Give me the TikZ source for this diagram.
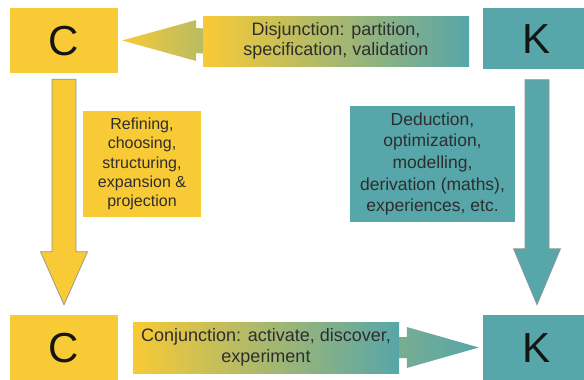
\documentclass[tikz,border=0pt]{standalone}
\usepackage{fontspec}
\setmainfont{Liberation Sans}
\usepackage{tikz}
\usetikzlibrary{calc}
\definecolor{cyel}{HTML}{F8CA35}
\definecolor{kteal}{HTML}{57A6A9}
\definecolor{ink}{HTML}{151515}
\definecolor{txt}{HTML}{2E2E2E}

\begin{document}
\begin{tikzpicture}[x=1pt,y=-1pt]
\tikzstyle{letter}=[rectangle,inner sep=0pt,minimum width=108pt,minimum height=65pt,text=ink,text height=30pt,text depth=0pt,font=\fontsize{42}{42}\selectfont]
\tikzstyle{cbox}=[letter,fill=cyel]
\tikzstyle{kbox}=[letter,fill=kteal]
\tikzstyle{note}=[rectangle,inner sep=0pt,align=center,text=txt,font=\fontsize{18}{20.5}\selectfont]
\tikzstyle{mixed}=[note,left color=cyel,right color=kteal,minimum width=266pt]
\tikzstyle{varrow}=[draw=gray!85,line width=0.7pt]
\useasboundingbox (0,0) rectangle (584,380);
\clip (0,0) rectangle (584,380);
\node[cbox] (C_0) at (64,40.5) {C};
\node[kbox,minimum height=61pt] (K_0) at (537,38) {K};
\node[cbox] (C_1) at (64,347.5) {C};
\node[kbox] (K_1) at (537,347.5) {K};
\node[mixed,minimum height=50pt] (disj) at (336,41) {Disjunction: partition,\\specification, validation};
\node[mixed,minimum height=51pt] (conj) at (266,347.5) {Conjunction: activate, discover,\\experiment};
\node[note,fill=cyel,minimum width=118pt,minimum height=106pt,font=\fontsize{16}{19.3}\selectfont] (refine) at (142,164) {Refining,\\choosing,\\structuring,\\expansion \&\\projection};
\node[note,fill=kteal,minimum width=165pt,minimum height=116pt,font=\fontsize{17.5}{21.7}\selectfont] (deduce) at (432.5,164) {Deduction,\\optimization,\\modelling,\\derivation (maths),\\experiences, etc.};
\coordinate (a) at ($(C_0.south)+(0,6)$);
\coordinate (b) at ($(C_1.north)+(0,-10)$);
\draw[varrow,fill=cyel] ($(a)+(-12,0)$) -- ($(a)+(12,0)$) -- ($(b)+(12,-53)$) -- ($(b)+(23.5,-53)$) -- (b) -- ($(b)+(-23.5,-53)$) -- ($(b)+(-12,-53)$) -- cycle;
\coordinate (c) at ($(K_0.south)+(0,11)$);
\coordinate (d) at ($(K_1.north)+(0,-10)$);
\draw[varrow,fill=kteal] ($(c)+(-12,0)$) -- ($(c)+(12,0)$) -- ($(d)+(12,-56)$) -- ($(d)+(23.5,-56)$) -- (d) -- ($(d)+(-23.5,-56)$) -- ($(d)+(-12,-56)$) -- cycle;
\coordinate (e) at ($(C_0.east)+(4,0)$);
\shade[left color=cyel,right color=cyel!60!kteal] (e) -- ($(e)+(74,-20.5)$) -- ($(e)+(74,-12.5)$) -- ($(disj.west)+(0,-12.5)$) -- ($(disj.west)+(0,12.5)$) -- ($(e)+(74,12.5)$) -- ($(e)+(74,20.5)$) -- cycle;
\coordinate (f) at ($(K_1.west)+(-4,0)$);
\shade[left color=kteal!80!cyel,right color=kteal] ($(conj.east)+(0,-10.5)$) -- ($(f)+(-72,-10.5)$) -- ($(f)+(-72,-20.5)$) -- (f) -- ($(f)+(-72,20.5)$) -- ($(f)+(-72,10.5)$) -- ($(conj.east)+(0,10.5)$) -- cycle;
\end{tikzpicture}
\end{document}
